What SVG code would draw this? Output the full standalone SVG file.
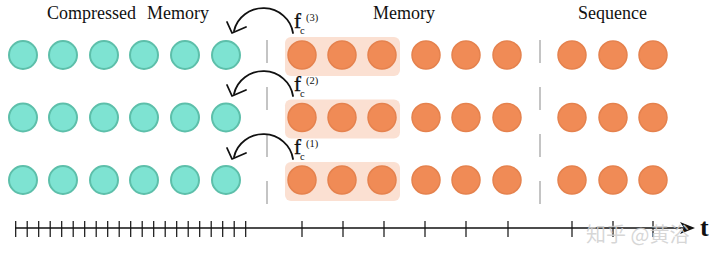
<svg xmlns="http://www.w3.org/2000/svg" width="720" height="253" viewBox="0 0 720 253">
<style>
.lbl{font-family:"Liberation Serif","Times New Roman",serif;font-size:18px;fill:#111}
.f{font-family:"Liberation Serif","Times New Roman",serif;font-size:21px;fill:#111;stroke:#111;stroke-width:0.35}
.sub{font-family:"Liberation Serif","Times New Roman",serif;font-size:10.5px;fill:#111}
.cm{fill:#7ee3d2;stroke:#5dbfaa;stroke-width:2}
.om{fill:#f08b56;stroke:#e5824e;stroke-width:1.5}
.hl{fill:#fbe0d2}
.div{stroke:#c4c4c4;stroke-width:2;stroke-dasharray:23 24;fill:none}
.arc{fill:none;stroke:#111;stroke-width:1.8;stroke-linecap:round;stroke-linejoin:round}
.tick{stroke:#111;stroke-width:1.2}
.wm{font-family:"Noto Sans CJK SC","Noto Sans",sans-serif;font-size:20px;fill:#cfcfcf;fill-opacity:0.85}
</style>
<defs>
<g id="arrowA">
<path class="arc" d="M293,33 A30,29 0 0 0 234,31"/>
<path class="arc" d="M227,22 L232,33 L246,27"/>
</g>
</defs>
<g id="labels">
<text class="lbl" x="47" y="19">Compressed</text>
<text class="lbl" x="147" y="19">Memory</text>
<text class="lbl" x="373" y="19">Memory</text>
<text class="lbl" x="578" y="19">Sequence</text>
</g>
<g id="highlights">
<rect class="hl" x="285" y="37" width="115" height="39" rx="6"/>
<rect class="hl" x="285" y="99.5" width="115" height="39" rx="6"/>
<rect class="hl" x="285" y="162" width="115" height="39" rx="6"/>
</g>
<g id="dividers">
<line class="div" x1="267" y1="40" x2="267" y2="206"/>
<line class="div" x1="540" y1="40" x2="540" y2="206"/>
</g>
<g id="row1">
<circle class="cm" cx="23" cy="55" r="14"/><circle class="cm" cx="63" cy="55" r="14"/><circle class="cm" cx="104" cy="55" r="14"/><circle class="cm" cx="144" cy="55" r="14"/><circle class="cm" cx="185" cy="55" r="14"/><circle class="cm" cx="226" cy="55" r="14"/>
<circle class="om" cx="302" cy="55" r="14"/><circle class="om" cx="342" cy="55" r="14"/><circle class="om" cx="382" cy="55" r="14"/><circle class="om" cx="426" cy="55" r="14"/><circle class="om" cx="466" cy="55" r="14"/><circle class="om" cx="507" cy="55" r="14"/>
<circle class="om" cx="572" cy="55" r="14"/><circle class="om" cx="613" cy="55" r="14"/><circle class="om" cx="653" cy="55" r="14"/>
</g>
<g id="row2">
<circle class="cm" cx="23" cy="117.5" r="14"/><circle class="cm" cx="63" cy="117.5" r="14"/><circle class="cm" cx="104" cy="117.5" r="14"/><circle class="cm" cx="144" cy="117.5" r="14"/><circle class="cm" cx="185" cy="117.5" r="14"/><circle class="cm" cx="226" cy="117.5" r="14"/>
<circle class="om" cx="302" cy="117.5" r="14"/><circle class="om" cx="342" cy="117.5" r="14"/><circle class="om" cx="382" cy="117.5" r="14"/><circle class="om" cx="426" cy="117.5" r="14"/><circle class="om" cx="466" cy="117.5" r="14"/><circle class="om" cx="507" cy="117.5" r="14"/>
<circle class="om" cx="572" cy="117.5" r="14"/><circle class="om" cx="613" cy="117.5" r="14"/><circle class="om" cx="653" cy="117.5" r="14"/>
</g>
<g id="row3">
<circle class="cm" cx="23" cy="180" r="14"/><circle class="cm" cx="63" cy="180" r="14"/><circle class="cm" cx="104" cy="180" r="14"/><circle class="cm" cx="144" cy="180" r="14"/><circle class="cm" cx="185" cy="180" r="14"/><circle class="cm" cx="226" cy="180" r="14"/>
<circle class="om" cx="302" cy="180" r="14"/><circle class="om" cx="342" cy="180" r="14"/><circle class="om" cx="382" cy="180" r="14"/><circle class="om" cx="426" cy="180" r="14"/><circle class="om" cx="466" cy="180" r="14"/><circle class="om" cx="507" cy="180" r="14"/>
<circle class="om" cx="572" cy="180" r="14"/><circle class="om" cx="613" cy="180" r="14"/><circle class="om" cx="653" cy="180" r="14"/>
</g>
<g id="connectors">
<use href="#arrowA"/>
<use href="#arrowA" y="63"/>
<use href="#arrowA" y="126"/>
</g>
<g id="fc-labels">
<text class="f" x="294" y="28">f</text><text class="sub" x="300" y="34">c</text><text class="sub" x="306" y="21">(3)</text>
<text class="f" x="294" y="91">f</text><text class="sub" x="300" y="97">c</text><text class="sub" x="306" y="84">(2)</text>
<text class="f" x="294" y="154">f</text><text class="sub" x="300" y="160">c</text><text class="sub" x="306" y="147">(1)</text>
</g>
<g id="axis">
<line x1="15" y1="228" x2="688" y2="228" stroke="#111" stroke-width="1.4"/>
<path d="M680,222 L695,228 L680,234 L684,228 Z" fill="#111"/>
<path class="tick" d="M15.7,221V237M27.2,221V237M38.7,221V237M50.2,221V237M61.7,221V237M73.2,221V237M84.7,221V237M96.2,221V237M107.7,221V237M119.2,221V237M130.7,221V237M142.2,221V237M153.7,221V237M165.2,221V237M176.7,221V237M188.2,221V237M199.7,221V237M211.2,221V237M222.7,221V237M234.2,221V237M245.7,221V237M302,221V237M343,221V237M384,221V237M425,221V237M466,221V237M508,221V237M572,221V237M613,221V237M653,221V237"/>
<text x="700" y="236" font-family="Liberation Serif,serif" font-size="26" font-weight="bold" fill="#111">t</text>
</g>
<text class="wm" x="586" y="242">知乎 @黄浴</text>
</svg>
